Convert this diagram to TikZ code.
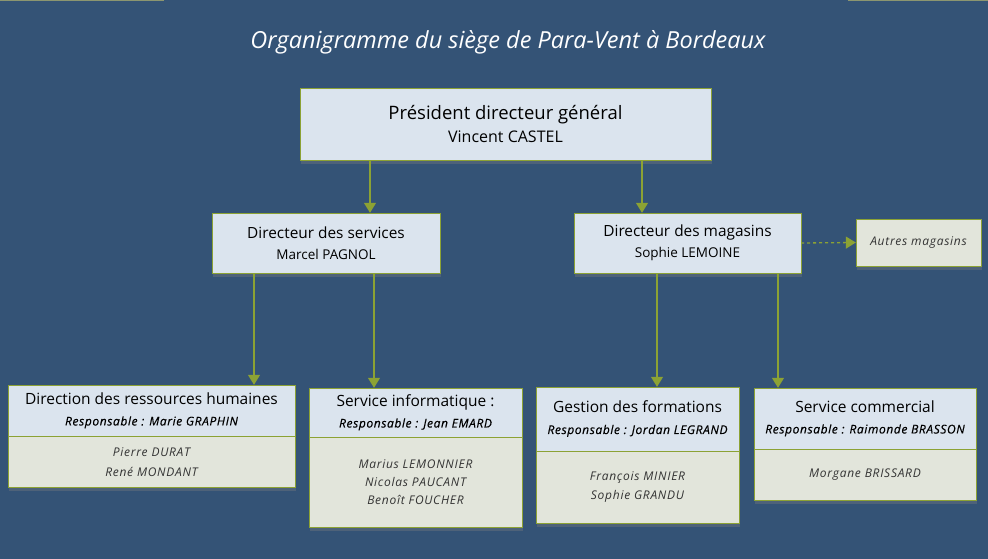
\documentclass[tikz,border=0pt]{standalone}
\usepackage{fontspec}
\setmainfont{Open Sans}
\newfontfamily\namefont{Open Sans}[LetterSpace=6]
\newfontfamily\respfont{Open Sans}[LetterSpace=5, FakeBold=0.4]
\usepackage{tikz}
\usetikzlibrary{arrows.meta, positioning, shadows}
\definecolor{nightblue}{RGB}{52, 83, 118}
\definecolor{paleblue}{RGB}{219, 228, 238}
\definecolor{paper}{RGB}{226, 229, 219}
\definecolor{olivegreen}{RGB}{140, 162, 52}
\definecolor{rimgrey}{RGB}{140, 150, 112}

\begin{document}
\begin{tikzpicture}[
    x=1pt, y=-1pt,
    box/.style={rectangle, draw=olivegreen, fill=paleblue, inner sep=0pt,
                align=center, text=black,
                font=\fontsize{13.5}{21}\selectfont,
                drop shadow={shadow xshift=1pt, shadow yshift=-4pt, opacity=.35}},
    sub/.style={box, fill=paper, text=black!80,
                font=\fontsize{12}{20}\selectfont\namefont\itshape},
    note/.style={sub, font=\fontsize{12}{14}\selectfont\namefont\itshape},
    arr/.style={-{Triangle[length=10pt, width=12pt]}, line width=1.3pt, olivegreen},
    darr/.style={arr, dashed, dash pattern=on 3pt off 3pt},
]

% Frame
\fill[nightblue] (0,0) rectangle (988,559);
\useasboundingbox (0,0) rectangle (988,559);
\fill[rimgrey] (0,0) rectangle (164,1.5);
\fill[rimgrey] (848,0) rectangle (988,1.5);

% Title
\node[text=white, font=\fontsize{23.5}{26}\selectfont\itshape] (title) at (508,42)
    {Organigramme du siège de Para-Vent à Bordeaux};

% President
\node[box, minimum width=411pt, minimum height=72pt, font=\fontsize{16}{22.5}\selectfont] (pdg) at (505.5,124)
    {{\fontsize{18.5}{22}\selectfont Président directeur général}\\Vincent CASTEL};

% Directors
\node[box, minimum width=228pt, minimum height=60pt] (dds) at (326,243)
    {{\fontsize{15.4}{21}\selectfont Directeur des services}\\Marcel PAGNOL};
\node[box, minimum width=227pt, minimum height=60pt] (ddm) at (687.5,243)
    {{\fontsize{15.4}{21}\selectfont Directeur des magasins}\\Sophie LEMOINE};
\node[note, minimum width=125pt, minimum height=47pt] (autres) at (918.5,242.5)
    {Autres magasins};

% Services
\node[box, minimum width=287pt, minimum height=51pt] (drh) at (151.5,410.5)
    {{\fontsize{15.5}{21}\selectfont Direction des ressources humaines}\\{\fontsize{12}{21}\selectfont\respfont\itshape Responsable : Marie GRAPHIN}};
\node[sub, minimum width=287pt, minimum height=51pt, below=0pt of drh] (drhteam)
    {Pierre DURAT\\René MONDANT};

\node[box, minimum width=213pt, minimum height=49pt] (info) at (415.5,412.5)
    {{\fontsize{15.5}{21}\selectfont Service informatique :}\\{\fontsize{12}{21}\selectfont\respfont\itshape Responsable : Jean EMARD}};
\node[sub, minimum width=213pt, minimum height=90pt, below=0pt of info, font=\fontsize{12}{18}\selectfont\namefont\itshape] (infoteam)
    {Marius LEMONNIER\\Nicolas PAUCANT\\Benoît FOUCHER};

\node[box, minimum width=203pt, minimum height=64pt] (form) at (637.5,419)
    {{\fontsize{15.5}{21}\selectfont Gestion des formations}\\{\fontsize{12}{21}\selectfont\respfont\itshape Responsable : Jordan LEGRAND}};
\node[sub, minimum width=203pt, minimum height=72pt, below=0pt of form, font=\fontsize{12}{19}\selectfont\namefont\itshape] (formteam)
    {François MINIER\\Sophie GRANDU};

\node[box, minimum width=222pt, minimum height=61pt] (comm) at (865,418.5)
    {{\fontsize{15.5}{21}\selectfont Service commercial}\\{\fontsize{12}{21}\selectfont\respfont\itshape Responsable : Raimonde BRASSON}};
\node[sub, minimum width=222pt, minimum height=51pt, below=0pt of comm] (commteam)
    {Morgane BRISSARD};

% Arrows
\draw[arr] ([xshift=44pt]dds.north |- pdg.south) -- ([xshift=44pt]dds.north);
\draw[arr] ([xshift=-45.5pt]ddm.north |- pdg.south) -- ([xshift=-45.5pt]ddm.north);
\draw[darr] (ddm.east) -- (autres.west);
\draw[arr] ([xshift=-72pt]dds.south) -- ([xshift=-72pt]dds.south |- drh.north);
\draw[arr] ([xshift=48pt]dds.south) -- ([xshift=48pt]dds.south |- info.north);
\draw[arr] ([xshift=-30.5pt]ddm.south) -- ([xshift=-30.5pt]ddm.south |- form.north);
\draw[arr] ([xshift=90.5pt]ddm.south) -- ([xshift=90.5pt]ddm.south |- comm.north);

\end{tikzpicture}
\end{document}
